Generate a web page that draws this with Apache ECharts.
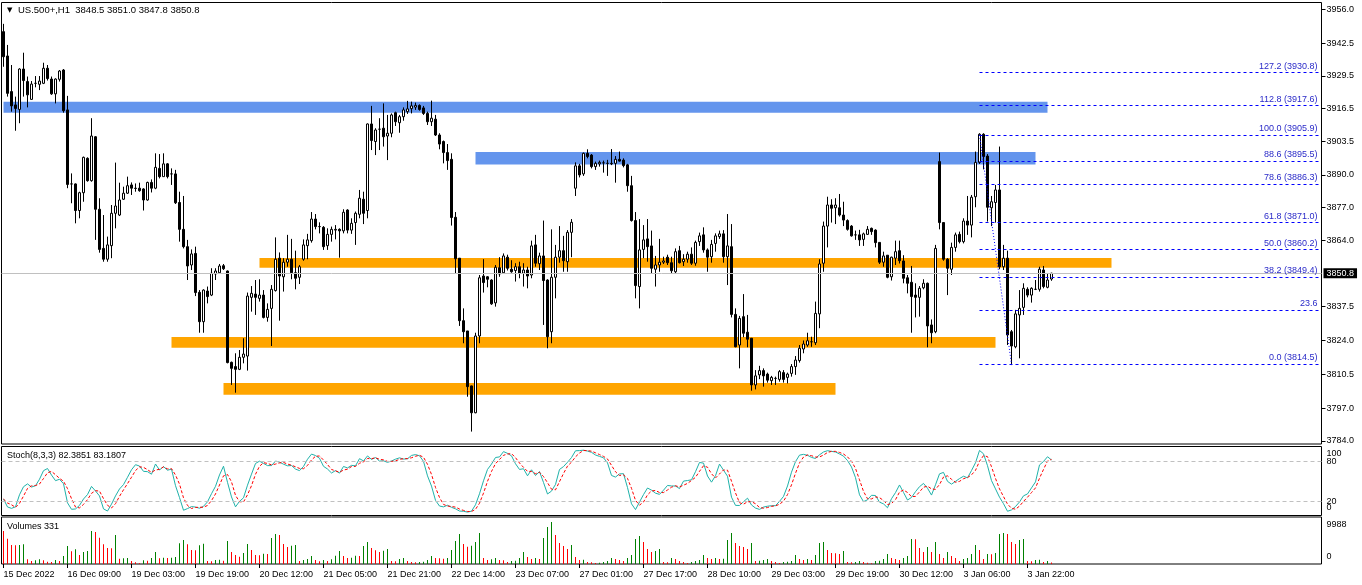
<!DOCTYPE html>
<html><head><meta charset="utf-8">
<script src="https://cdn.jsdelivr.net/npm/echarts@6/dist/echarts.min.js"></script>
<style>html,body{margin:0;padding:0;background:#fff;}#c{width:1362px;height:585px;}</style>
</head><body><div id="c"></div>
<script>
// ---- data (US.500+, H1) ----
const opens = [
3947.1,3937.4,3923.2,3917.9,3916.1,3932.2,3927.2,3920.1,3926.5,3926.1,
3926.5,3932.5,3928.2,3922.3,3928.1,3931.8,3915.9,3886.4,3886.4,3875.8,
3882.9,3896.6,3887.7,3905.2,3876.3,3860.7,3856.4,3861.8,3874.7,3874.0,
3880.3,3882.7,3886.0,3884.7,3884.7,3884.4,3880.0,3887.0,3884.7,3892.6,
3889.3,3894.4,3890.4,3890.4,3879.0,3868.3,3861.4,3854.1,3858.7,3843.2,
3831.5,3843.7,3842.1,3850.5,3851.0,3853.8,3851.7,3815.3,3813.6,3812.5,
3817.3,3817.8,3841.2,3842.5,3840.8,3842.1,3833.2,3836.8,3843.9,3856.8,
3849.4,3855.2,3856.4,3851.0,3849.2,3856.4,3861.8,3863.8,3872.4,3869.4,
3869.1,3861.8,3866.3,3868.0,3868.3,3867.7,3876.0,3868.0,3871.0,3874.3,
3880.3,3875.8,3910.3,3903.3,3908.2,3908.6,3905.5,3906.6,3914.8,3910.8,
3913.2,3915.2,3916.4,3917.0,3917.7,3916.7,3914.5,3911.2,3912.2,3905.9,
3903.3,3898.9,3896.2,3873.1,3856.8,3831.9,3827.8,3805.9,3795.2,3825.8,
3849.7,3849.4,3848.1,3839.0,3853.0,3851.0,3857.2,3852.4,3851.9,3853.4,
3850.8,3852.1,3850.1,3862.1,3854.6,3857.7,3848.1,3827.5,3849.2,3857.2,
3859.8,3855.4,3867.1,3884.7,3893.6,3890.4,3898.6,3897.9,3893.3,3894.4,
3894.8,3894.6,3894.4,3894.6,3896.2,3895.9,3894.0,3885.7,3871.8,3845.5,
3860.3,3864.5,3861.7,3852.4,3854.1,3855.2,3857.2,3855.0,3851.4,3859.8,
3855.4,3856.4,3858.4,3854.8,3863.4,3866.1,3860.1,3857.4,3862.7,3865.4,
3866.5,3857.4,3861.4,3834.4,3822.2,3833.5,3827.3,3824.9,3806.3,3810.3,
3812.0,3810.6,3808.0,3808.9,3808.5,3811.2,3809.3,3810.9,3813.6,3816.0,
3820.6,3822.2,3823.5,3823.1,3834.6,3854.8,3869.6,3878.0,3876.9,3876.9,
3874.0,3871.8,3869.6,3866.1,3866.1,3864.3,3866.3,3868.7,3868.0,3863.1,
3855.2,3858.0,3849.4,3856.8,3859.8,3855.7,3849.0,3847.2,3842.1,3841.2,
3845.0,3846.8,3830.2,3827.5,3895.3,3871.0,3856.4,3852.4,3861.1,3866.3,
3863.4,3871.6,3870.0,3881.3,3895.0,3906.2,3897.5,3876.9,3879.0,3884.0,
3853.4,3856.8,3827.5,3821.5,3834.2,3837.2,3844.4,3842.1,3844.4,3844.4,
3852.1,3845.2,3848.5];
const highs = [
3950.2,3941.8,3933.8,3921.2,3932.5,3938.7,3929.2,3927.4,3929.4,3929.4,
3934.7,3933.8,3929.2,3928.5,3931.8,3932.2,3921.5,3890.6,3886.6,3883.3,
3897.3,3897.0,3912.6,3905.5,3880.7,3874.0,3865.4,3878.0,3894.9,3886.9,
3885.3,3889.3,3887.0,3886.6,3886.9,3884.7,3887.3,3888.2,3898.6,3898.3,
3898.6,3894.7,3892.6,3892.0,3883.3,3881.6,3864.1,3860.3,3861.4,3844.1,
3844.4,3845.5,3852.8,3852.8,3854.5,3854.5,3851.9,3815.6,3818.9,3820.2,
3824.9,3843.1,3845.7,3848.1,3848.4,3844.1,3838.8,3846.1,3865.1,3859.1,
3856.8,3866.1,3864.5,3859.8,3854.1,3864.3,3866.5,3875.2,3874.4,3871.1,
3869.6,3868.7,3869.4,3870.0,3868.7,3876.3,3876.3,3872.7,3875.4,3884.0,
3883.3,3910.5,3917.5,3908.6,3912.6,3918.5,3913.9,3914.5,3915.2,3913.9,
3916.9,3919.5,3919.2,3918.8,3918.1,3917.5,3915.2,3919.6,3913.9,3906.6,
3903.7,3902.3,3898.6,3875.2,3856.8,3836.8,3827.8,3806.0,3827.1,3850.1,
3856.4,3849.7,3848.4,3854.1,3857.2,3858.7,3858.2,3856.0,3854.8,3855.4,
3854.8,3853.4,3863.8,3866.1,3859.0,3871.8,3848.4,3868.3,3862.1,3869.6,
3865.7,3868.0,3872.4,3895.0,3894.4,3898.9,3900.2,3898.3,3895.3,3895.7,
3895.7,3896.0,3900.3,3897.5,3899.3,3896.6,3894.4,3889.6,3875.2,3872.4,
3870.0,3872.4,3867.8,3857.7,3864.5,3857.4,3858.2,3857.4,3860.7,3861.7,
3858.4,3859.4,3861.1,3863.8,3867.0,3869.1,3860.7,3864.1,3866.7,3867.8,
3868.0,3874.4,3870.4,3836.8,3833.8,3842.5,3834.2,3824.9,3812.2,3813.9,
3812.9,3811.2,3809.9,3809.6,3812.2,3812.2,3811.2,3814.6,3817.8,3822.2,
3824.0,3827.1,3825.5,3839.5,3856.4,3871.4,3881.3,3880.3,3880.7,3882.4,
3879.3,3872.3,3870.0,3867.8,3868.1,3867.0,3869.6,3869.0,3868.3,3863.1,
3859.4,3858.0,3857.4,3863.8,3863.8,3858.0,3850.1,3853.7,3846.8,3845.7,
3848.4,3847.1,3832.4,3862.1,3898.9,3871.0,3856.8,3863.0,3867.0,3867.4,
3872.7,3881.6,3882.0,3899.3,3906.6,3906.6,3898.3,3881.6,3886.0,3901.3,
3862.1,3859.8,3828.2,3836.2,3844.1,3846.8,3845.2,3845.2,3848.1,3853.4,
3853.7,3850.5,3851.0];
const lows = [
3933.1,3921.2,3915.2,3907.6,3910.6,3921.2,3916.9,3919.9,3924.9,3923.8,
3926.2,3927.6,3921.9,3918.5,3927.2,3914.8,3884.7,3878.7,3870.7,3872.7,
3879.3,3887.3,3887.3,3864.1,3859.0,3855.4,3855.4,3856.8,3868.7,3873.6,
3880.0,3882.4,3882.0,3883.3,3883.3,3875.8,3879.7,3883.0,3884.3,3888.6,
3889.3,3888.6,3886.0,3878.4,3863.4,3860.7,3848.1,3852.1,3841.7,3827.1,
3827.1,3838.8,3841.7,3848.1,3850.8,3852.1,3814.9,3806.3,3803.2,3812.2,
3814.9,3812.0,3835.5,3834.2,3839.5,3832.8,3831.5,3821.8,3843.5,3831.9,
3843.5,3853.4,3848.4,3844.4,3846.5,3855.8,3856.4,3863.0,3868.3,3866.7,
3860.1,3860.1,3863.4,3864.3,3857.0,3866.7,3866.7,3866.5,3862.1,3872.7,
3870.4,3872.7,3899.9,3897.9,3899.9,3901.3,3895.9,3905.0,3909.5,3906.8,
3911.6,3914.3,3914.5,3915.9,3915.6,3913.9,3909.9,3909.5,3905.5,3900.2,
3894.6,3892.0,3869.8,3850.8,3829.8,3822.9,3801.6,3787.7,3795.0,3822.9,
3843.1,3845.2,3838.2,3837.5,3849.4,3850.8,3851.9,3851.0,3847.5,3848.8,
3845.5,3844.8,3848.8,3853.4,3852.1,3830.2,3820.9,3822.9,3840.8,3855.0,
3851.4,3851.4,3857.2,3881.6,3889.0,3889.6,3896.6,3892.6,3892.0,3893.3,
3890.9,3889.6,3893.9,3886.9,3895.3,3893.0,3883.3,3871.4,3840.8,3836.8,
3856.8,3855.4,3850.8,3845.5,3851.4,3854.5,3854.1,3850.8,3850.5,3854.7,
3853.7,3855.0,3854.1,3853.8,3861.7,3859.0,3851.4,3855.0,3859.4,3864.5,
3855.0,3846.1,3833.2,3821.3,3812.9,3825.3,3821.3,3804.0,3804.5,3808.6,
3805.6,3807.2,3806.3,3806.3,3807.6,3807.2,3806.9,3809.6,3810.3,3815.2,
3818.9,3821.5,3821.5,3822.2,3828.9,3851.4,3861.1,3871.0,3870.4,3873.4,
3869.6,3867.8,3865.4,3864.1,3861.7,3861.7,3866.1,3866.1,3861.1,3854.5,
3853.4,3848.8,3847.9,3854.1,3854.7,3846.8,3842.8,3827.1,3833.2,3833.5,
3844.4,3821.3,3822.9,3826.9,3868.3,3855.8,3842.1,3850.1,3859.4,3862.7,
3862.7,3866.1,3865.1,3877.1,3894.4,3892.2,3871.4,3869.6,3871.0,3852.4,
3852.1,3822.2,3814.2,3820.9,3816.9,3834.2,3841.2,3839.1,3844.1,3843.5,
3844.8,3844.8,3847.8];
const closes = [
3937.1,3922.5,3917.5,3916.5,3932.2,3927.6,3921.9,3926.2,3926.5,3927.4,
3932.5,3928.4,3922.3,3928.2,3931.4,3915.6,3886.2,3886.4,3875.8,3882.9,
3897.0,3887.7,3905.5,3876.3,3860.3,3856.4,3862.1,3874.7,3877.6,3880.0,
3882.7,3885.7,3884.7,3884.6,3883.7,3880.0,3887.0,3884.7,3893.0,3889.3,
3894.4,3889.3,3890.4,3878.9,3868.3,3861.4,3853.7,3858.5,3843.1,3831.5,
3844.1,3841.5,3850.8,3851.7,3853.7,3852.6,3815.2,3812.9,3812.5,3817.3,
3818.6,3841.7,3842.8,3841.2,3842.1,3833.2,3836.4,3844.4,3856.4,3849.7,
3855.2,3856.4,3851.0,3848.8,3853.4,3862.1,3864.1,3872.4,3869.4,3869.4,
3861.4,3866.3,3868.3,3868.3,3867.7,3875.1,3868.0,3870.7,3874.7,3880.7,
3874.7,3910.3,3903.7,3907.9,3908.2,3905.2,3906.6,3913.9,3911.2,3913.2,
3915.9,3916.3,3917.5,3917.7,3916.1,3914.5,3911.2,3912.6,3905.9,3902.3,
3898.9,3895.7,3873.0,3856.6,3831.9,3827.5,3805.6,3795.2,3825.8,3849.0,
3847.1,3848.4,3838.6,3853.2,3850.5,3857.7,3852.8,3851.4,3853.4,3850.8,
3852.1,3849.7,3861.7,3854.8,3857.7,3847.9,3825.5,3849.2,3857.2,3859.8,
3855.8,3867.1,3871.1,3893.6,3890.0,3898.6,3897.3,3893.3,3894.6,3895.0,
3894.8,3894.6,3894.6,3896.2,3895.5,3893.7,3885.7,3871.8,3845.9,3860.1,
3864.1,3861.4,3852.8,3854.1,3855.2,3855.7,3855.0,3851.8,3859.4,3855.0,
3856.4,3858.4,3854.8,3863.1,3865.7,3860.1,3857.2,3862.3,3865.7,3866.5,
3857.4,3861.7,3834.4,3821.5,3832.8,3826.9,3824.5,3806.3,3809.9,3812.0,
3809.9,3808.2,3809.3,3808.9,3811.6,3808.5,3810.6,3813.6,3816.2,3820.9,
3822.6,3823.9,3823.5,3834.8,3854.5,3869.6,3878.0,3876.7,3878.0,3874.0,
3872.0,3868.3,3865.7,3866.1,3864.1,3866.5,3868.3,3867.4,3863.0,3855.2,
3857.7,3849.2,3857.2,3859.4,3855.8,3848.8,3846.8,3841.5,3841.2,3844.8,
3846.8,3829.8,3827.1,3860.7,3871.0,3856.4,3852.8,3861.1,3866.1,3863.4,
3871.6,3870.0,3881.1,3895.0,3906.2,3897.3,3877.1,3879.3,3884.0,3853.4,
3856.8,3826.2,3821.8,3834.6,3836.8,3844.8,3842.1,3844.8,3844.4,3852.4,
3845.5,3848.1,3850.8];
const volumes = [
7851,6027,4520,4441,4520,4679,1110,714,872,1110,
872,555,476,952,714,1903,4282,3013,3489,2141,
2855,3093,7851,7613,6265,4679,3806,3727,6899,1269,
1348,1427,714,397,159,872,793,1427,2855,1348,
1507,1427,1507,1665,4917,5710,4679,3331,3251,4441,
4837,714,634,952,1031,793,5472,2855,2141,1745,
2617,4758,3331,2141,2062,2458,2379,6185,7137,6899,
4758,4044,4362,4520,714,952,1190,1903,952,634,
952,714,1110,1983,3093,1903,1427,1507,1983,1903,
4282,5234,3806,3251,2855,3172,3569,714,634,1190,
1427,714,476,397,476,555,952,1903,1427,1348,
1269,1427,3331,5472,7137,4758,4124,4362,5234,7375,
1427,952,1110,1427,952,872,476,714,793,1427,
2855,1665,1190,1427,1190,6185,8802,9988,6899,4996,
4282,3569,4520,1665,952,1031,476,397,238,317,
476,714,1427,1190,952,714,1427,2141,5948,6661,
5234,3569,2855,3093,3569,476,397,1427,1190,714,
476,238,476,714,952,2141,1427,1190,1427,1190,
1269,5710,7375,4996,4282,4044,3569,4996,714,793,
952,1190,714,476,238,476,555,714,2141,1190,
952,1190,952,2141,4996,5234,3331,2617,2538,2379,
3093,476,397,476,714,476,317,159,714,793,
1190,2379,1427,1190,952,1427,1903,5948,5868,3806,
2855,4044,2855,5234,2379,1427,2855,1903,1427,714,
1190,1427,2379,4520,3331,1190,2379,2300,2617,7137,
7375,7137,5234,4758,5710,5948,714,634,952,1031,
476,714,331];
const timeLabels = ['15 Dec 2022','16 Dec 09:00','19 Dec 03:00','19 Dec 19:00','20 Dec 12:00',
  '21 Dec 05:00','21 Dec 21:00','22 Dec 14:00','23 Dec 07:00','27 Dec 01:00','27 Dec 17:00',
  '28 Dec 10:00','29 Dec 03:00','29 Dec 19:00','30 Dec 12:00','3 Jan 06:00','3 Jan 22:00'];
const priceTicks = [3956.0,3942.5,3929.5,3916.5,3903.5,3890.0,3877.0,3864.0,3837.5,3824.0,3810.5,3797.0,3784.0];
const stochTicks = [0,20,80,100];
const fibLevels = ['127.2','112.8','100.0','88.6','78.6','61.8','50.0','38.2','23.6','0.0'];
const fibPrices = [3930.8,3917.6,3905.9,3895.5,3886.3,3871.0,3860.2,3849.4,3836.1,3814.5];
const fibShowPrice = [true,true,true,true,true,true,true,true,false,true];
const fibStartBar = 244, fibEndBar = 329;
const fibAnchorBars = [244, 252];
const fibAnchorPrices = [3905.9, 3814.5];
const zoneStart = [0, 118, 64, 42, 55];
const zoneEnd = [261, 258, 277, 248, 208];
const zoneHigh = [3919.2, 3899.1, 3856.9, 3825.4, 3807.1];
const zoneLow = [3914.8, 3894.1, 3853.0, 3821.1, 3802.4];
const zoneIsBlue = [true, true, false, false, false];

// ---- build ----
const N = closes.length, SLOTS = 330, last = N - 1;
const cats = Array.from({length: SLOTS}, (_, i) => String(i));
const candleData = closes.map((c, i) => [opens[i], c, lows[i], highs[i]]);

function stochastic(kp, slow, dp) {
  const K = [], D = [], num = [], den = [];
  for (let i = 0; i < N; i++) {
    let lo = Infinity, hi = -Infinity;
    for (let j = Math.max(0, i - kp + 1); j <= i; j++) { lo = Math.min(lo, lows[j]); hi = Math.max(hi, highs[j]); }
    num.push(closes[i] - lo); den.push(hi - lo);
    let sn = 0, sd = 0;
    for (let j = Math.max(0, i - slow + 1); j <= i; j++) { sn += num[j]; sd += den[j]; }
    K.push(sd > 0 ? sn / sd * 100 : 50);
    let s = 0, c = 0;
    for (let j = Math.max(0, i - dp + 1); j <= i; j++) { s += K[j]; c++; }
    D.push(s / c);
  }
  return [K, D];
}
const [stK, stD] = stochastic(8, 3, 3);
const maxVol = Math.max(...volumes);
const volColors = volumes.map((v, i) => (i > 0 && v > volumes[i - 1]) ? '#008000' : '#ff0000');
const volData = volumes.map((v, i) => [i, v]);

const FONT = '"Liberation Sans", Arial, sans-serif';
const GL = 1.5, GW = 1320;
const isLabelIdx = i => i % 16 === 0 && (i / 16) < timeLabels.length;

const zoneAreas = zoneStart.map((s, i) => [
  {coord: [s, zoneHigh[i]], itemStyle: {color: zoneIsBlue[i] ? '#6495ED' : '#FFA500', opacity: 1}},
  {coord: [zoneEnd[i], zoneLow[i]]}
]);
const fibLines = fibPrices.map((p, i) => [
  {coord: [fibStartBar, p]},
  {coord: [fibEndBar, p], label: {formatter: fibLevels[i] + (fibShowPrice[i] ? ' (' + p.toFixed(1) + ')' : '')}}
]);
fibLines.push([
  {coord: [fibAnchorBars[0], fibAnchorPrices[0]], lineStyle: {type: [1, 2], color: '#0000ff'}, label: {show: false}},
  {coord: [fibAnchorBars[1], fibAnchorPrices[1]]}
]);
const lbl = {margin: 5, fontSize: 9, color: '#000', fontFamily: FONT, hideOverlap: false};

const chart = echarts.init(document.getElementById('c'), null, {renderer: 'canvas'});
chart.setOption({
  animation: false,
  textStyle: {fontFamily: FONT, fontSize: 9, color: '#000'},
  grid: [
    {left: GL, width: GW, top: 2.5, height: 441.5, show: true, borderColor: '#000', borderWidth: 1, backgroundColor: '#fff'},
    {left: GL, width: GW, top: 446.5, height: 69, show: true, borderColor: '#000', borderWidth: 1, backgroundColor: '#fff'},
    {left: GL, width: GW, top: 517, height: 47, show: true, borderColor: '#000', borderWidth: 1, backgroundColor: '#fff'}
  ],
  xAxis: [
    {type: 'category', gridIndex: 0, data: cats, boundaryGap: true, show: false},
    {type: 'category', gridIndex: 1, data: cats, boundaryGap: true, show: false},
    {type: 'category', gridIndex: 2, data: cats, boundaryGap: true,
      axisLine: {show: false},
      axisTick: {show: true, alignWithLabel: true, interval: (i) => isLabelIdx(i), length: 4, lineStyle: {color: '#000'}},
      axisLabel: Object.assign({}, lbl, {interval: (i) => isLabelIdx(i), formatter: (v, i) => isLabelIdx(i) ? timeLabels[i / 16] : '',
        align: 'left', margin: 6})}
  ],
  yAxis: [
    {type: 'value', gridIndex: 0, position: 'right', min: 3782.75, max: 3958.71, splitLine: {show: false},
      axisLine: {show: false},
      axisTick: {show: true, customValues: priceTicks, length: 4, lineStyle: {color: '#000'}},
      axisLabel: Object.assign({}, lbl, {customValues: priceTicks, formatter: v => v.toFixed(1), showMinLabel: true, showMaxLabel: true})},
    // stochastic: inner levels
    {type: 'value', gridIndex: 1, position: 'right', offset: 0, min: -1.35, max: 102.25, splitLine: {show: false},
      axisLine: {show: false}, axisTick: {show: false},
      axisLabel: Object.assign({}, lbl, {customValues: [stochTicks[1], stochTicks[2]], formatter: v => String(v)})},
    // stochastic: range ends (drawn just inside the panel like the terminal does)
    {type: 'value', gridIndex: 1, position: 'right', offset: 0, min: -1.35, max: 102.25, splitLine: {show: false},
      axisLine: {show: false}, axisTick: {show: false},
      axisLabel: Object.assign({}, lbl, {customValues: [9.9, 91.0], formatter: v => String(v > 50 ? stochTicks[3] : stochTicks[0])})},
    {type: 'value', gridIndex: 2, position: 'right', min: 0, max: maxVol * 47 / 42, splitLine: {show: false},
      axisLine: {show: false}, axisTick: {show: false},
      axisLabel: Object.assign({}, lbl, {customValues: [1665, 9275], formatter: v => v > 5000 ? String(maxVol) : '0'})}
  ],
  graphic: [
    {type: 'text', x: 7, y: 10.5, style: {text: '▼', font: '7px "DejaVu Sans"', fill: '#000', verticalAlign: 'middle'}},
    {type: 'text', x: 18, y: 10.5, style: {text: 'US.500+,H1  ' + opens[last].toFixed(1) + ' ' + highs[last].toFixed(1) + ' ' + lows[last].toFixed(1) + ' ' + closes[last].toFixed(1),
      font: '9.5px ' + FONT, fill: '#000', verticalAlign: 'middle'}},
    {type: 'text', x: 7, y: 455.5, style: {text: 'Stoch(8,3,3) 82.3851 83.1807', font: '9px ' + FONT, fill: '#000', verticalAlign: 'middle'}},
    {type: 'text', x: 7, y: 526.5, style: {text: 'Volumes ' + volumes[last], font: '9px ' + FONT, fill: '#000', verticalAlign: 'middle'}}
  ],
  series: [
    {name: 'zones', type: 'line', xAxisIndex: 0, yAxisIndex: 0, data: [], z: 1, silent: true,
      markArea: {silent: true, data: zoneAreas},
      markLine: {silent: true, symbol: ['none', 'none'], data: [{yAxis: closes[last]}],
        lineStyle: {color: '#c0c0c0', type: 'solid', width: 1},
        label: {show: true, position: 'end', distance: 2, formatter: closes[last].toFixed(1),
          backgroundColor: '#000', color: '#fff', padding: [1, 3, 0, 3], fontSize: 9, fontFamily: FONT}}},
    {name: 'price', type: 'candlestick', xAxisIndex: 0, yAxisIndex: 0, data: candleData, barWidth: 3, z: 3, silent: true,
      itemStyle: {color: '#fff', color0: '#000', borderColor: '#000', borderColor0: '#000', borderWidth: 1}},
    {name: 'fibo', type: 'line', xAxisIndex: 0, yAxisIndex: 0, data: [], z: 5, silent: true,
      markLine: {silent: true, symbol: ['none', 'none'], data: fibLines,
        lineStyle: {color: '#0000ff', type: [3, 3], width: 1},
        label: {show: true, position: 'insideEndTop', distance: 2, color: '#2a2ac8', fontSize: 9, fontFamily: FONT}}},
    {name: 'stochK', type: 'line', xAxisIndex: 1, yAxisIndex: 1, data: stK, showSymbol: false, z: 3,
      lineStyle: {color: '#20B2AA', width: 1},
      markLine: {silent: true, symbol: ['none', 'none'], label: {show: false},
        lineStyle: {color: '#c0c0c0', type: [4, 3], width: 1}, data: [{yAxis: stochTicks[1]}, {yAxis: stochTicks[2]}]}},
    {name: 'stochD', type: 'line', xAxisIndex: 1, yAxisIndex: 1, data: stD, showSymbol: false, z: 4,
      lineStyle: {color: '#ff0000', width: 1, type: [3, 2]}},
    {name: 'volume', type: 'custom', xAxisIndex: 2, yAxisIndex: 3, data: volData, silent: true,
      encode: {x: 0, y: 1},
      renderItem: (params, api) => {
        const top = api.coord([api.value(0), api.value(1)]);
        const base = api.coord([api.value(0), 0]);
        return {type: 'rect', shape: {x: Math.floor(top[0]), y: top[1], width: 1, height: base[1] - top[1]},
          style: {fill: volColors[params.dataIndex]}};
      }}
  ]
});
</script></body></html>
